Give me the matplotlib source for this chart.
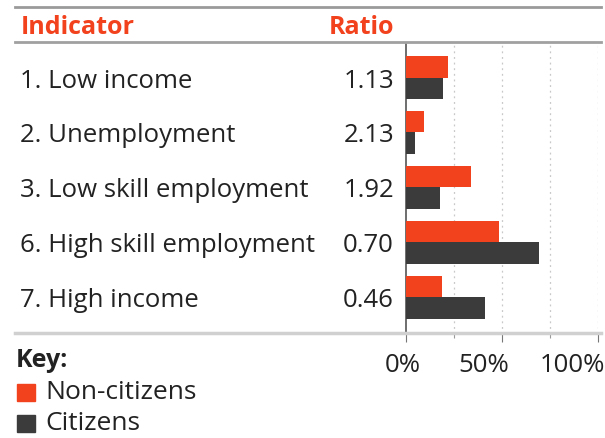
import matplotlib.pyplot as plt
import matplotlib.transforms as mtransforms
from matplotlib.lines import Line2D
from matplotlib.patches import Rectangle
from matplotlib.ticker import MultipleLocator, FuncFormatter

indicators = ["1. Low income", "2. Unemployment", "3. Low skill employment",
              "6. High skill employment", "7. High income"]
ratios = ["1.13", "2.13", "1.92", "0.70", "0.46"]
non_citizens = [22.0, 9.6, 34.0, 48.5, 19.0]
citizens = [19.5, 4.5, 17.7, 69.3, 41.3]

RED = "#f2411d"
DARK = "#3b3b3b"
TXT = "#222222"
FONT = "Open Sans"
FS = 18.5

W, H = 605, 439
fig = plt.figure(figsize=(W / 100, H / 100), dpi=100)
fig.patch.set_facecolor("white")

def fx(px):
    return px / W

def fy(py):
    return 1 - py / H

# bar area
ax = fig.add_axes([fx(406), fy(335), fx(598) - fx(406), fy(45) - fy(335)])
n = len(indicators)
ys = list(range(n))
bh = 0.39
ax.barh([y - bh / 2 for y in ys], non_citizens, height=bh, color=RED, zorder=3)
ax.barh([y + bh / 2 for y in ys], citizens, height=bh, color=DARK, zorder=3)
ax.set_xlim(0, 100)
ax.set_ylim(n - 0.33, -0.61)
ax.set_yticks([])
ax.xaxis.set_major_locator(MultipleLocator(50))
ax.xaxis.set_minor_locator(MultipleLocator(25))
ax.xaxis.set_major_formatter(FuncFormatter(lambda v, p: f"{v:.0f}%"))
for g in (25, 50, 75, 100):
    ax.axvline(g, color="#c8c8c8", lw=0.9, ls=(0, (1.5, 3)), zorder=1)
for s in ("top", "right", "bottom"):
    ax.spines[s].set_visible(False)
ax.spines["left"].set_color("#555555")
ax.spines["left"].set_linewidth(1.2)
ax.tick_params(axis="x", which="major", length=6, width=0.8, color="#777777",
               pad=7, labelsize=FS, labelcolor=TXT)
ax.tick_params(axis="x", which="minor", length=3, width=0.8, color="#999999")
fig.canvas.draw()
# spread the percent labels under the axis
shifts = {"0%": -3, "50%": -18, "100%": -26}
for lab in ax.get_xticklabels():
    lab.set_fontfamily(FONT)
    dx = shifts.get(lab.get_text(), 0)
    lab.set_transform(lab.get_transform()
                      + mtransforms.ScaledTranslation(dx / 100, 0, fig.dpi_scale_trans))
ax.patch.set_alpha(0)

# horizontal rules
for py, lw, col in ((8, 2.0, "#9a9a9a"), (43, 2.0, "#a0a0a0"), (334, 2.5, "#d0d0d0")):
    fig.add_artist(Line2D([fx(15), fx(601)], [fy(py), fy(py)], color=col, lw=lw))

# header
fig.text(fx(21), fy(27), "Indicator", color=RED, fontsize=18, fontweight="bold",
         family=FONT, va="center", ha="left")
fig.text(fx(329), fy(27), "Ratio", color=RED, fontsize=18, fontweight="bold",
         family=FONT, va="center", ha="left")

# row labels and ratios, nudged down to sit on the bar pair's centre
tr = (mtransforms.blended_transform_factory(fig.transFigure, ax.transData)
      + mtransforms.ScaledTranslation(0, -2.5 / 100, fig.dpi_scale_trans))
for y, name, r in zip(ys, indicators, ratios):
    ax.text(fx(20), y, name, transform=tr, fontsize=FS, family=FONT,
            color=TXT, va="center", ha="left", clip_on=False)
    ax.text(fx(394), y, r, transform=tr, fontsize=FS, family=FONT,
            color=TXT, va="center", ha="right", clip_on=False)

# key
fig.text(fx(16), fy(361), "Key:", fontsize=18, fontweight="bold", family=FONT,
         color=TXT, va="center", ha="left")
for py, col, lab in ((393, RED, "Non-citizens"), (424, DARK, "Citizens")):
    fig.add_artist(Rectangle((fx(17), fy(py + 9)), fx(18), fy(0) - fy(17),
                             color=col, transform=fig.transFigure))
    fig.text(fx(45), fy(py), lab, fontsize=19, family=FONT, color=TXT,
             va="center", ha="left")

fig.savefig("out.png", dpi=100)
